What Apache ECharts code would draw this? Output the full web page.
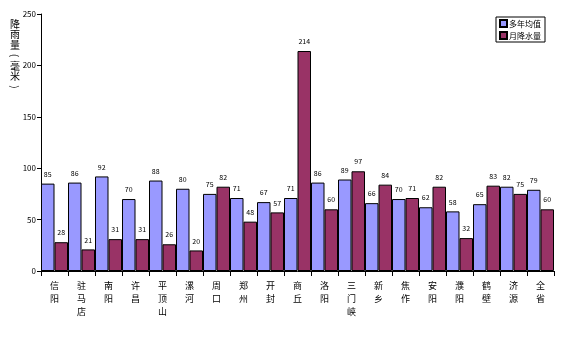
<!DOCTYPE html>
<html>
<head>
<meta charset="utf-8">
<script src="https://cdn.jsdelivr.net/npm/echarts@6/dist/echarts.min.js"></script>
<style>
  html, body { margin: 0; padding: 0; background: #fff; }
  #chart { width: 567px; height: 354px; }
</style>
</head>
<body>
<div id="chart"></div>
<script>
// 各市降雨量（毫米）
var cities = ["信阳", "驻马店", "南阳", "许昌", "平顶山", "漯河", "周口", "郑州", "开封", "商丘",
    "洛阳", "三门峡", "新乡", "焦作", "安阳", "濮阳", "鹤壁", "济源", "全省"];
var avgValues = [85, 86, 92, 70, 88, 80, 75, 71, 67, 71, 86, 89, 66, 70, 62, 58, 65, 82, 79];
var monthValues = [28, 21, 31, 31, 26, 20, 82, 48, 57, 214, 60, 97, 84, 71, 82, 32, 83, 75, 60];
var yTicks = [0, 50, 100, 150, 200, 250];
var seriesNames = ["多年均值", "月降水量"];
var yTitle = ["降", "雨", "量", "(", "毫", "米", ")"];

var font = "'Noto Sans CJK SC', sans-serif";
var chart = echarts.init(document.getElementById("chart"));

// 纵轴标题逐字竖排，括号转 90 度
var titleChars = yTitle.map(function (c, i) {
    var paren = c === "(" || c === ")";
    return {
        type: "text",
        x: 15,
        y: 24 + i * 10.5,
        rotation: paren ? -Math.PI / 2 : 0,
        style: {
            text: c,
            font: "10px " + font,
            fill: "#000",
            align: "center",
            verticalAlign: "middle"
        }
    };
});

var option = {
    animation: false,
    textStyle: { fontFamily: font },
    grid: { left: 41, right: 13, top: 14, bottom: 83, containLabel: false },
    legend: {
        right: 22,
        top: 17,
        orient: "vertical",
        icon: "rect",
        itemWidth: 7,
        itemHeight: 7,
        itemGap: 3,
        padding: [2, 4, 2, 3],
        borderColor: "#000",
        borderWidth: 1,
        borderRadius: 0,
        textStyle: { fontSize: 8, color: "#000", padding: [0, 0, 0, -3] },
        data: seriesNames
    },
    graphic: titleChars,
    xAxis: {
        type: "category",
        data: cities,
        axisLine: { lineStyle: { color: "#000", width: 1 } },
        axisTick: { show: true, alignWithLabel: false, length: 5, lineStyle: { color: "#000" } },
        axisLabel: {
            interval: 0,
            color: "#000",
            fontSize: 9,
            lineHeight: 13,
            margin: 8,
            formatter: function (v) { return v.split("").join("\n"); }
        }
    },
    yAxis: {
        type: "value",
        min: yTicks[0],
        max: yTicks[yTicks.length - 1],
        interval: 50,
        splitLine: { show: false },
        axisLine: { show: true, lineStyle: { color: "#000", width: 1 } },
        axisTick: { show: true, length: 4, lineStyle: { color: "#000" } },
        axisLabel: { color: "#000", fontSize: 8, margin: 5 }
    },
    series: [{
        name: seriesNames[0],
        type: "bar",
        data: avgValues,
        barGap: "0%",
        barCategoryGap: "0%",
        itemStyle: { color: "#9999FF", borderColor: "#000", borderWidth: 1 },
        label: { show: true, position: "top", fontSize: 7, color: "#000", distance: 6 }
    }, {
        name: seriesNames[1],
        type: "bar",
        data: monthValues,
        barGap: "0%",
        barCategoryGap: "0%",
        itemStyle: { color: "#993366", borderColor: "#000", borderWidth: 1 },
        label: { show: true, position: "top", fontSize: 7, color: "#000", distance: 6 }
    }]
};

chart.setOption(option);
</script>
</body>
</html>
